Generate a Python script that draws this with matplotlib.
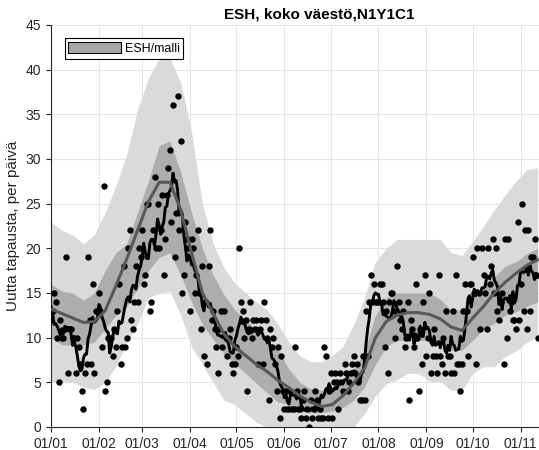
import matplotlib
matplotlib.use('Agg')
import matplotlib.pyplot as plt
from matplotlib.patches import Patch
import numpy as np
import pandas as pd

plt.rcParams['font.family'] = ['Liberation Sans', 'DejaVu Sans']

# daily new cases, one list per month
jan = [12, 13, 15, 14, 10, 5, 12, 10, 10, 11, 19, 6, 11, 11, 10, 10, 6, 10, 9, 7,
       4, 2, 6, 7, 19, 12, 7, 16, 6, 13, 13]
feb = [15, 13, 9, 27, 4, 5, 10, 10, 10, 8, 11, 9, 13, 16, 7, 9, 18, 9, 10, 20,
       22, 12, 11, 14, 18, 14, 20, 19]
mar = [22, 16, 17, 25, 25, 13, 14, 22, 28, 20, 25, 20, 22, 26, 17, 21, 26, 29, 31, 23,
       36, 19, 24, 37, 22, 32, 15, 17, 23, 21, 20]
apr = [13, 21, 20, 15, 17, 22, 15, 11, 18, 8, 14, 7, 18, 22, 12, 13, 11, 9, 6, 11,
       13, 9, 13, 10, 8, 10, 11, 7, 6, 7]
may = [9, 8, 20, 14, 13, 10, 12, 4, 11, 14, 10, 12, 11, 12, 7, 11, 12, 7, 14, 12,
       10, 3, 11, 9, 10, 7, 4, 9, 1, 8, 4]
jun = [2, 4, 2, 2, 4, 2, 2, 9, 4, 2, 2, 1, 3, 4, 1, 2, 0, 3, 1, 2,
       4, 3, 1, 2, 1, 1, 9, 8, 1, 4]
jul = [6, 1, 5, 6, 5, 2, 6, 5, 4, 7, 6, 4, 5, 6, 7, 8, 6, 7, 5, 3,
       3, 8, 3, 13, 8, 14, 17, 14, 16, 14, 14]
aug = [14, 16, 16, 14, 9, 13, 6, 14, 15, 15, 13, 10, 18, 14, 12, 11, 13, 9, 10, 14,
       3, 12, 11, 9, 16, 10, 4, 11, 7, 14, 17]
sep = [8, 10, 15, 6, 8, 11, 8, 6, 17, 8, 7, 10, 6, 13, 8, 8, 6, 13, 6, 17,
       7, 7, 4, 7, 13, 16, 13, 8, 16, 16]
oct_ = [19, 15, 7, 20, 15, 11, 20, 17, 15, 11, 20, 16, 18, 21, 15, 20, 13, 12, 14, 15,
        7, 21, 10, 21, 13, 14, 12, 12, 11, 23, 12]
nov = [16, 25, 13, 22, 11, 22, 13, 19, 19, 21, 17, 10]

cases = jan + feb + mar + apr + may + jun + jul + aug + sep + oct_ + nov
days = np.arange(len(cases))

# model output, weekly grid starting 1.1.
model_days = np.arange(0, 316, 7)
model_mean = [13.2, 12.7, 12.2, 11.7, 11.8, 13.0, 15.8, 18.8, 22.0, 25.2,
              27.4, 27.4, 24.3, 19.5, 15.0, 12.7, 10.4, 9.0, 8.0, 7.0,
              6.2, 5.2, 4.4, 3.5, 2.8, 2.3, 2.5, 3.5, 4.9, 6.6,
              10.0, 11.8, 12.5, 12.8, 12.8, 12.6, 12.1, 11.2, 10.8, 12.2,
              13.5, 15.0, 16.2, 17.2, 18.1, 18.7]
inner_lo = [10, 9.2, 9.2, 9.2, 9.5, 11, 12.5, 13.5, 15.5, 17.5,
            19, 19.5, 17, 14, 11.5, 9.8, 8.2, 7.1, 6, 4.9,
            3.8, 2.8, 2.5, 1.9, 1.6, 1.6, 1.8, 2.2, 3, 4.5,
            7, 9, 9.7, 9.7, 9.7, 9.7, 9.5, 8.6, 8.6, 9.7,
            11, 11.6, 12.5, 12.9, 13.5, 14]
inner_hi = [16, 15.2, 15, 14.2, 15, 17.5, 19.5, 20.5, 24, 27.5,
            31.5, 32, 28.5, 24, 20, 17, 14.8, 13.1, 12, 10.9,
            9.7, 8.6, 6.5, 5, 4.3, 4.1, 4.5, 5.2, 6.5, 8.5,
            12.5, 14.5, 15, 15, 15, 15, 14.3, 13.1, 13.1, 14.6,
            16, 16.8, 18, 18.5, 19.4, 20]
outer_lo = [5, 5, 5, 4.5, 4.2, 5, 6.8, 9.5, 11.5, 14.5,
            15, 15.2, 12.5, 9, 7, 5, 3, 2.5, 1.5, 0.5,
            0, 0, 0, 0, 0, 0, 0, 0, 0, 1.5,
            3.5, 4.8, 5.3, 6, 6, 5.1, 5.1, 4.1, 4.1, 6,
            6.75, 6.75, 7.9, 8.5, 9.5, 10.1]
outer_hi = [23, 22, 21.5, 20.5, 21.5, 24, 27, 30.5, 35.5, 39,
            41.3, 41.3, 38.5, 33, 25, 20.5, 17.8, 16.1, 15, 14,
            13.1, 11.5, 9.5, 8, 7.3, 7.3, 8, 9, 11.5, 14.5,
            18.5, 20, 21, 21, 21, 21, 21, 19.5, 19.2, 20.8,
            22.5, 24.3, 26, 27.5, 28.8, 29]

month_labels = ['01/01', '01/02', '01/03', '01/04', '01/05', '01/06',
                '01/07', '01/08', '01/09', '01/10', '01/11']
month_starts = (pd.date_range('2021-01-01', periods=11, freq='MS')
                - pd.Timestamp('2021-01-01')).days

# 7 day moving average of the daily counts
avg7 = pd.Series(cases).rolling(7, center=True, min_periods=1).mean()

fig = plt.figure(figsize=(5.39, 4.5), dpi=100)
ax = fig.add_axes([51 / 539, 23 / 450, 488 / 539, 402 / 450])

ax.fill_between(model_days, outer_lo, outer_hi, color='#dadada', lw=0, zorder=1)
ax.fill_between(model_days, inner_lo, inner_hi, color='#adadad', lw=0, zorder=2)
ax.plot(days, cases, 'o', color='black', ms=4.6, mew=0, zorder=3)
ax.plot(days, avg7, color='black', lw=2.1, zorder=4)
ax.plot(model_days, model_mean, color='#585858', lw=2.2, zorder=5)

ax.set_xlim(0, 315.9)
ax.set_ylim(0, 45)
ax.set_xticks(month_starts)
ax.set_xticklabels(month_labels)
ax.set_yticks(np.arange(0, 46, 5))

ax.grid(True, color='#e4e4e4', lw=0.8)
ax.set_axisbelow(True)
for side in ['top', 'right']:
    ax.spines[side].set_visible(False)
for side in ['left', 'bottom']:
    ax.spines[side].set_color('#262626')
    ax.spines[side].set_linewidth(0.8)
ax.tick_params(direction='out', length=3.5, width=0.8, color='#262626',
               labelsize=10, labelcolor='#262626')

ax.set_ylabel('Uutta tapausta, per päivä', fontsize=11, color='#262626')
ax.set_title('ESH, koko väestö,N1Y1C1', fontsize=11, fontweight='bold',
             x=(319 - 51) / 488, pad=5)

handle = Patch(facecolor='#a9a9a9', edgecolor='black', lw=0.8)
leg = ax.legend([handle], ['ESH/malli'], loc='upper left',
                bbox_to_anchor=(0.028, 0.967), borderaxespad=0, fontsize=9,
                handlelength=4.2, handleheight=1.0, handletextpad=0.3,
                borderpad=0.3, fancybox=False, framealpha=1)
leg.get_frame().set_edgecolor('black')
leg.get_frame().set_linewidth(0.8)

fig.savefig('out.png', dpi=100)
